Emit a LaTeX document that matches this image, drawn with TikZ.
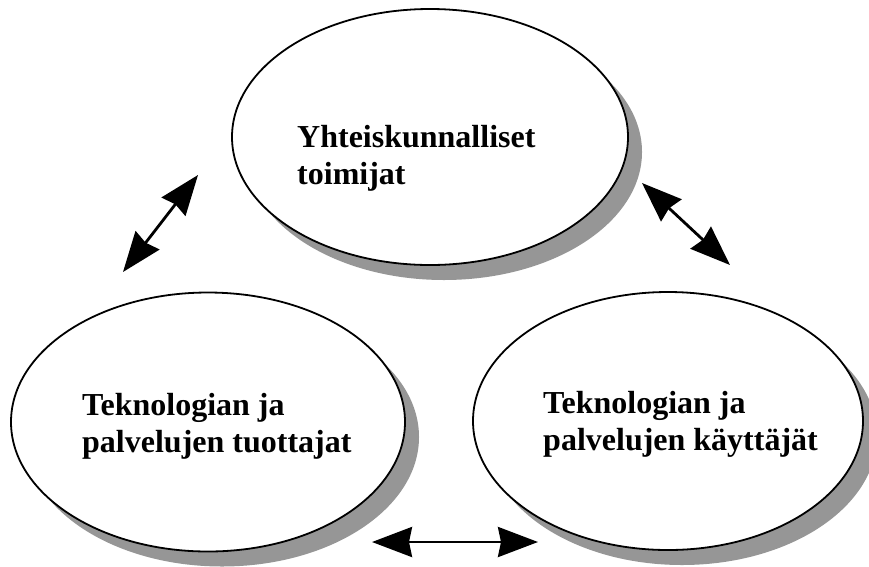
\documentclass[tikz,border=0pt]{standalone}
\usepackage{fontspec}
\setmainfont{Liberation Serif}
\usetikzlibrary{shapes.geometric,shadows,arrows.meta}
\definecolor{shadowgray}{RGB}{150,150,150}
\tikzset{
  actor/.style={ellipse, draw=black, line width=1.8pt, fill=white, inner sep=0pt,
    drop shadow={shadow xshift=14pt, shadow yshift=-15pt, fill=shadowgray, opacity=1}},
  label/.style={anchor=north west, inner sep=0pt, align=left,
    font=\fontsize{32}{37}\selectfont\bfseries},
  head/.tip={Stealth[length=40pt, width=30pt, inset=3pt]},
  link/.style={line width=2.8pt, head-head}
}
\begin{document}
\begin{tikzpicture}[x=1pt, y=-1pt]
  \useasboundingbox[fill=white] (0,0) rectangle (869,566);
  % the three actor groups
  \node[actor, minimum width=396pt, minimum height=256pt] (society) at (430,137) {};
  \node[actor, minimum width=394pt, minimum height=259pt] (producers) at (208,422) {};
  \node[actor, minimum width=390pt, minimum height=258pt] (users) at (668,421) {};
  % their names
  \node[label] (societytext) at (297,125) {Yhteiskunnalliset\\toimijat};
  \node[label] (producerstext) at (82,393) {Teknologian ja\\palvelujen tuottajat};
  \node[label] (userstext) at (543,391) {Teknologian ja\\palvelujen käyttäjät};
  % two-way interaction arrows
  \coordinate (a1) at (123,272);
  \coordinate (b1) at (198,175);
  \coordinate (a2) at (642,183);
  \coordinate (b2) at (730,265);
  \coordinate (a3) at (372,542);
  \coordinate (b3) at (538,542);
  \draw[link] (a1) -- (b1);
  \draw[link] (a2) -- (b2);
  \draw[link] (a3) -- (b3);
\end{tikzpicture}
\end{document}
